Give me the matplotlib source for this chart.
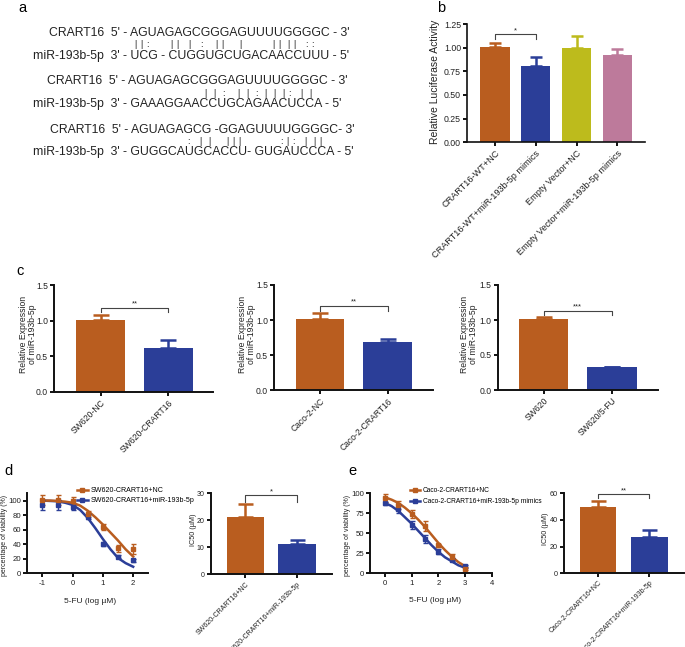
import numpy as np
import matplotlib
matplotlib.use('Agg')
import matplotlib.pyplot as plt
from matplotlib.lines import Line2D

plt.rcParams['font.family'] = ['Liberation Sans', 'DejaVu Sans']
plt.rcParams['axes.unicode_minus'] = False

W, H = 685, 647
ORANGE = '#b95d1f'
BLUE = '#2b3e98'
OLIVE = '#bdbb1c'
PINK = '#bd7a9b'
INK = '#222222'

# ---------------- data ----------------
# panel a: sequences and pairing symbols
seq_top = ["CRART16  5' - AGUAGAGCGGGAGUUUUGGGGC - 3'",
           "CRART16  5' - AGUAGAGCGGGAGUUUUGGGGC - 3'",
           "CRART16  5' - AGUAGAGCG -GGAGUUUUGGGGC- 3'"]
seq_mir = ["miR-193b-5p  3' - UCG - CUGGUGCUGACAACCUUU - 5'",
           "miR-193b-5p  3' - GAAAGGAACCUGCAGAACUCCA - 5'",
           "miR-193b-5p  3' - GUGGCAUGCACCU- GUGAUCCCA - 5'"]
pairs = ["| | :       | |   |   :    | |     |          | |  | |   : :",
         "|  |  :    |  |  :  |  |  | :   |  |",
         ":   |  |     | | |             : | :   |  | |"]

# panel b: luciferase
luc_labels = ['CRART16-WT+NC', 'CRART16-WT+miR-193b-5p mimics',
              'Empty Vector+NC', 'Empty Vector+miR-193b-5p mimics']
luc_mean = [1.01, 0.806, 1.0, 0.926]
luc_err = [0.04, 0.092, 0.122, 0.056]

# panel c: relative expression
sw_labels = ['SW620-NC', 'SW620-CRART16']
sw_mean = [1.01, 0.62]
sw_err = [0.065, 0.10]
caco_labels = ['Caco-2-NC', 'Caco-2-CRART16']
caco_mean = [1.01, 0.684]
caco_err = [0.086, 0.042]
fu_labels = ['SW620', 'SW620/5-FU']
fu_mean = [1.014, 0.324]
fu_err = [0.026, 0.006]

# panel d: SW620 viability
dose_d = [-1, -0.5, 0, 0.5, 1, 1.5, 2]
via_d_nc = [101, 101, 99.5, 81, 64, 34.5, 33]
err_d_nc = [7, 7, 6, 4, 4, 5, 7]
via_d_mir = [94, 94, 90.5, 78, 40, 23, 18]
err_d_mir = [7, 7, 4, 3, 3, 2, 2]
fit_x_d = [-1, -0.75, -0.5, -0.25, 0, 0.25, 0.5, 0.75, 1, 1.25, 1.5, 1.75, 2]
fit_d_nc = [100, 100, 99.5, 98.5, 97, 93, 86, 77, 67, 56, 45, 33, 23]
fit_d_mir = [100, 99.5, 99, 97, 94, 87, 76, 62, 47, 33, 21, 14, 9]
ic50_d_labels = ['SW620-CRART16+NC', 'SW620-CRART16+miR-193b-5p']
ic50_d_mean = [21.3, 11.3]
ic50_d_err = [4.6, 1.5]

# panel e: Caco-2 viability
dose_e = [0, 0.5, 1, 1.5, 2, 2.5, 3]
via_e_nc = [94.5, 86, 74, 59, 35, 21, 6]
err_e_nc = [5, 5, 5, 6, 2, 3, 2]
via_e_mir = [87.5, 80, 61, 43, 27, 17, 9]
err_e_mir = [2, 5, 5, 5, 3, 2, 2]
fit_x_e = [0, 0.25, 0.5, 0.75, 1, 1.25, 1.5, 1.75, 2, 2.25, 2.5, 2.75, 3]
fit_e_nc = [95, 92, 88, 82, 75, 67, 58, 48, 38, 29, 21, 14, 9]
fit_e_mir = [88, 84, 78, 70, 62, 53, 44, 35, 27, 20, 15, 10, 7]
ic50_e_labels = ['Caco-2-CRART16+NC', 'Caco-2-CRART16+miR-193b-5p']
ic50_e_mean = [50, 27.5]
ic50_e_err = [4.2, 4.7]

# ---------------- figure ----------------
fig = plt.figure(figsize=(W / 100, H / 100), dpi=100)
ov = fig.add_axes([0, 0, 1, 1])
ov.set_xlim(0, W)
ov.set_ylim(H, 0)
ov.axis('off')


def px_axes(l, t, r, b):
    return fig.add_axes([l / W, 1 - b / H, (r - l) / W, (b - t) / H])


def style(ax, size, lw=1.4):
    for s in ['top', 'right']:
        ax.spines[s].set_visible(False)
    for s in ['left', 'bottom']:
        ax.spines[s].set_linewidth(lw)
        ax.spines[s].set_color('#111111')
    ax.tick_params(width=lw, length=3, pad=1.5, color='#111111',
                   labelcolor=INK, labelsize=size)
    ax.patch.set_alpha(0)


def bar_panel(ax, labels, mean, err, colors, ylim, yticks, xlim, fmt,
              star, sig_y, drop, cap, lsize, tsize):
    x = np.arange(len(mean))
    ax.bar(x, mean, width=0.72, color=colors, zorder=2)
    for xi, m, e, c in zip(x, mean, err, colors):
        ax.errorbar(xi, m, yerr=[[0], [e]], fmt='none', ecolor=c, elinewidth=1.8,
                    capsize=cap, capthick=1.8, zorder=3)
    ax.plot([0, 0, 1, 1], [sig_y - drop, sig_y, sig_y, sig_y - drop],
            color='#444444', lw=0.8, clip_on=False)
    ax.text(0.5, sig_y, star, ha='center', va='bottom', fontsize=5.5, color=INK)
    ax.set_xlim(*xlim)
    ax.set_ylim(*ylim)
    ax.set_yticks(yticks)
    ax.set_yticklabels([fmt.format(v) for v in yticks])
    ax.set_xticks(x)
    ax.set_xticklabels(labels, rotation=45, ha='right', rotation_mode='anchor')
    style(ax, tsize)
    ax.tick_params(axis='x', labelsize=lsize)


def dose_panel(ax, dose, v1, e1, v2, e2, fx, f1, f2, xlim, ylim, xticks, yticks):
    ax.plot(fx, f2, color=BLUE, lw=1.8)
    ax.plot(fx, f1, color=ORANGE, lw=1.8)
    ax.errorbar(dose, v2, yerr=e2, fmt='s', color=BLUE, ms=3, capsize=1.8,
                elinewidth=1.0, capthick=1.0, clip_on=False)
    ax.errorbar(dose, v1, yerr=e1, fmt='s', color=ORANGE, ms=3, capsize=1.8,
                elinewidth=1.0, capthick=1.0, clip_on=False)
    ax.set_xlim(*xlim)
    ax.set_ylim(*ylim)
    ax.set_xticks(xticks)
    ax.set_yticks(yticks)
    style(ax, 5.6)


# ---- panel a ----
ov.text(18, 8, 'a', fontsize=10.5, va='center', ha='left')
top_xy = [(49, 32.5), (47, 81), (50, 130)]
mir_xy = [(33, 56.5), (33, 104.5), (33, 152.5)]
pair_xy = [(135, 44.5), (205, 93), (188.3, 141.5)]
for s, (x, y) in zip(seq_top, top_xy):
    ov.text(x, y, s, fontsize=8.8, va='center', ha='left', color=INK)
for s, (x, y) in zip(seq_mir, mir_xy):
    ov.text(x, y, s, fontsize=8.8, va='center', ha='left', color=INK)
for s, (x0, y) in zip(pairs, pair_xy):
    for i, ch in enumerate(s):
        if ch != ' ':
            ov.text(x0 + i * 3.0, y, ch, fontsize=6.5, va='center', ha='center', color=INK)

# ---- panel b ----
ov.text(437, 8, 'b', fontsize=10.5, va='center', ha='left')
axb = px_axes(467.3, 24, 645, 142.3)
bar_panel(axb, luc_labels, luc_mean, luc_err, [ORANGE, BLUE, OLIVE, PINK],
          (0, 1.25), [0, 0.25, 0.5, 0.75, 1.0, 1.25], (-0.68, 3.68), '{:.2f}',
          '*', 1.143, 0.056, 4.3, 6.6, 6.3)
axb.spines['left'].set_linewidth(1.2)
axb.spines['bottom'].set_linewidth(1.2)
ov.text(435, 82, 'Relative Luciferase Activity', rotation=90, fontsize=7.5,
        va='center', ha='center', color=INK)

# ---- panel c ----
ov.text(16, 271, 'c', fontsize=10.5, va='center', ha='left')
c_specs = [
    (sw_labels, sw_mean, sw_err, (54.3, 285, 213.3, 391.7), (-0.68, 1.66), '**', 1.18, 0.065, 28),
    (caco_labels, caco_mean, caco_err, (274.3, 285, 432.7, 390.3), (-0.68, 1.67), '**', 1.205, 0.07, 247),
    (fu_labels, fu_mean, fu_err, (497.7, 285, 657.7, 390), (-0.67, 1.67), '***', 1.133, 0.063, 469),
]
for labels, mean, err, rect, xl, star, sy, drop, ylx in c_specs:
    ax = px_axes(*rect)
    bar_panel(ax, labels, mean, err, [ORANGE, BLUE], (0, 1.5), [0, 0.5, 1.0, 1.5],
              xl, '{:.1f}', star, sy, drop, 5.8, 6.2, 6.2)
    ov.text(ylx, 334, 'Relative Expression\nof miR-193b-5p', rotation=90, fontsize=6.2,
            va='center', ha='center', color=INK, linespacing=1.05)

# ---- panel d ----
ov.text(4, 471, 'd', fontsize=10.5, va='center', ha='left')
axd = px_axes(27.3, 493.3, 148.3, 573.3)
dose_panel(axd, dose_d, via_d_nc, err_d_nc, via_d_mir, err_d_mir,
           fit_x_d, fit_d_nc, fit_d_mir, (-1.5, 2.5), (0, 110),
           [-1, 0, 1, 2], [0, 20, 40, 60, 80, 100])
handles = [Line2D([], [], color=ORANGE, lw=1.8, marker='s', ms=3),
           Line2D([], [], color=BLUE, lw=1.8, marker='s', ms=3)]
axd.legend(handles, ['SW620-CRART16+NC', 'SW620-CRART16+miR-193b-5p'],
           loc='upper left', bbox_to_anchor=(77 / W, 1 - 487 / H),
           bbox_transform=fig.transFigure, frameon=False, fontsize=5.1,
           handlelength=1.5, handletextpad=0.4, labelspacing=0.45,
           borderpad=0, borderaxespad=0)
ov.text(5, 535, 'percentage of viability (%)', rotation=90, fontsize=5,
        va='center', ha='center', color=INK)
ov.text(90, 601.5, '5-FU (log µM)', fontsize=6, va='center', ha='center', color=INK)

axd2 = px_axes(210.7, 493.3, 331.7, 574.3)
bar_panel(axd2, ic50_d_labels, ic50_d_mean, ic50_d_err, [ORANGE, BLUE], (0, 30),
          [0, 10, 20, 30], (-0.67, 1.67), '{:.0f}', '*', 29.3, 2.6, 5.4, 5.0, 5.0)
ov.text(194, 530, 'IC50 (µM)', rotation=90, fontsize=5.2,
        va='center', ha='center', color=INK)

# ---- panel e ----
ov.text(348, 471, 'e', fontsize=10.5, va='center', ha='left')
axe = px_axes(370, 493.3, 491.7, 573.3)
dose_panel(axe, dose_e, via_e_nc, err_e_nc, via_e_mir, err_e_mir,
           fit_x_e, fit_e_nc, fit_e_mir, (-0.56, 4), (0, 100),
           [0, 1, 2, 3, 4], [0, 25, 50, 75, 100])
axe.legend(handles, ['Caco-2-CRART16+NC', 'Caco-2-CRART16+miR-193b-5p mimics'],
           loc='upper left', bbox_to_anchor=(410 / W, 1 - 487.5 / H),
           bbox_transform=fig.transFigure, frameon=False, fontsize=4.8,
           handlelength=1.5, handletextpad=0.4, labelspacing=0.5,
           borderpad=0, borderaxespad=0)
ov.text(348, 535, 'percentage of viability (%)', rotation=90, fontsize=5,
        va='center', ha='center', color=INK)
ov.text(435, 600, '5-FU (log µM)', fontsize=6, va='center', ha='center', color=INK)

axe2 = px_axes(564.3, 493.3, 684, 573.3)
bar_panel(axe2, ic50_e_labels, ic50_e_mean, ic50_e_err, [ORANGE, BLUE], (0, 60),
          [0, 20, 40, 60], (-0.66, 1.68), '{:.0f}', '**', 59.3, 3.0, 5.4, 5.0, 5.2)
ov.text(546, 529, 'IC50 (µM)', rotation=90, fontsize=5.2,
        va='center', ha='center', color=INK)

fig.savefig('out.png', dpi=100)
